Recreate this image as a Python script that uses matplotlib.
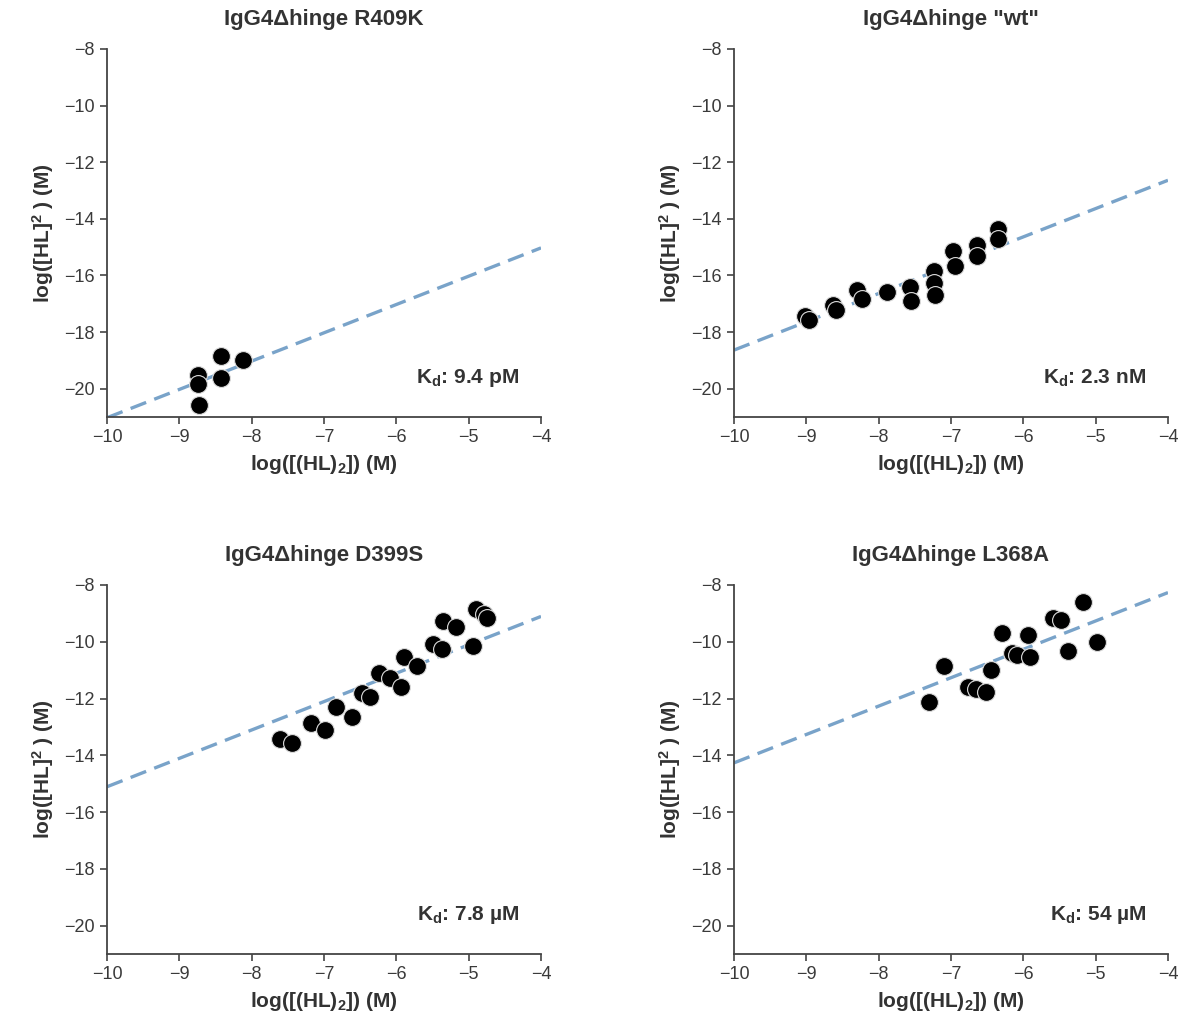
import numpy as np
import matplotlib
matplotlib.use("Agg")
import matplotlib.pyplot as plt

plt.rcParams['font.family'] = ['Liberation Sans', 'DejaVu Sans']
plt.rcParams['mathtext.fontset'] = 'custom'
plt.rcParams['mathtext.rm'] = 'Liberation Sans:bold'
plt.rcParams['mathtext.it'] = 'Liberation Sans:bold'
plt.rcParams['mathtext.bf'] = 'Liberation Sans:bold'

# dati
titoli = ['IgG4Δhinge R409K', 'IgG4Δhinge "wt"', 'IgG4Δhinge D399S', 'IgG4Δhinge L368A']
kd_testo = ['9.4 pM', '2.3 nM', '7.8 µM', '54 µM']
kd_valori = [9.4e-12, 2.3e-9, 7.8e-6, 54e-6]

x_r409k = [-8.74, -8.74, -8.73, -8.43, -8.42, -8.12]
y_r409k = [-19.50, -19.85, -20.59, -18.85, -19.62, -19.00]

x_wt = [-9.02, -8.96, -8.63, -8.59, -8.30, -8.23, -7.89, -7.57, -7.55,
        -7.24, -7.23, -7.22, -6.97, -6.95, -6.64, -6.64, -6.35, -6.35]
y_wt = [-17.42, -17.58, -17.03, -17.21, -16.53, -16.85, -16.60, -16.41, -16.91,
        -15.86, -16.26, -16.68, -15.15, -15.68, -14.91, -15.30, -14.36, -14.71]

x_d399s = [-7.61, -7.44, -7.18, -6.98, -6.83, -6.61, -6.48, -6.36, -6.24, -6.09, -5.94,
           -5.89, -5.71, -5.50, -5.37, -5.36, -5.18, -4.94, -4.90, -4.79, -4.75]
y_d399s = [-13.43, -13.55, -12.87, -13.11, -12.31, -12.64, -11.79, -11.93, -11.11, -11.29, -11.60,
           -10.55, -10.84, -10.08, -10.26, -9.26, -9.49, -10.15, -8.86, -9.02, -9.17]

x_l368a = [-7.30, -7.10, -6.76, -6.65, -6.52, -6.45, -6.29, -6.16, -6.09, -5.94, -5.91,
           -5.59, -5.48, -5.38, -5.18, -4.98]
y_l368a = [-12.13, -10.85, -11.60, -11.66, -11.76, -10.99, -9.68, -10.38, -10.46, -9.76, -10.54,
           -9.17, -9.23, -10.31, -8.61, -10.00]

dati = [(x_r409k, y_r409k), (x_wt, y_wt), (x_d399s, y_d399s), (x_l368a, y_l368a)]


def retta(x, kd):
    # log([HL]^2) = log([(HL)2]) + log(Kd)
    return x + np.log10(kd)


def main():
    fig = plt.figure(figsize=(11.8, 10.27), dpi=100)
    posizioni = [[0.0907, 0.594, 0.3678, 0.3583],
                 [0.6220, 0.594, 0.3678, 0.3583],
                 [0.0907, 0.0711, 0.3678, 0.3593],
                 [0.6220, 0.0711, 0.3678, 0.3593]]
    xx = np.linspace(-10, -4, 50)
    for i in range(4):
        ax = fig.add_axes(posizioni[i])
        ax.plot(xx, retta(xx, kd_valori[i]), linestyle=(0, (5, 2.6)), color='#79a3c9',
                linewidth=2.4, zorder=2)
        ax.scatter(dati[i][0], dati[i][1], s=165, color='black', edgecolors='#dddddd',
                   linewidths=0.8, zorder=3)
        ax.set_xlim(-10, -4)
        ax.set_ylim(-21, -8)
        ax.set_xticks(np.arange(-10, -3, 1))
        ax.set_yticks(np.arange(-20, -7, 2))
        ax.spines['top'].set_visible(False)
        ax.spines['right'].set_visible(False)
        for s in ['left', 'bottom']:
            ax.spines[s].set_color('#444444')
            ax.spines[s].set_linewidth(1.3)
        ax.tick_params(direction='out', length=5, width=1.2, colors='#444444',
                       labelsize=13, labelcolor='#3a3a3a', pad=4)
        ax.set_title(titoli[i], fontsize=16, fontweight='bold', color='#333333', pad=17)
        ax.set_xlabel(r'log([(HL)$_2$]) (M)', fontsize=15, fontweight='bold',
                      color='#333333', labelpad=5)
        ax.set_ylabel(r'log([HL]$^{2}$ ) (M)', fontsize=15, fontweight='bold',
                      color='#333333', labelpad=6)
        ax.text(0.95, 0.105, r'K$_d$: ' + kd_testo[i], transform=ax.transAxes,
                ha='right', va='center', fontsize=15, fontweight='bold', color='#333333')
    fig.savefig('out.png', dpi=100)


if __name__ == "__main__":
    main()
